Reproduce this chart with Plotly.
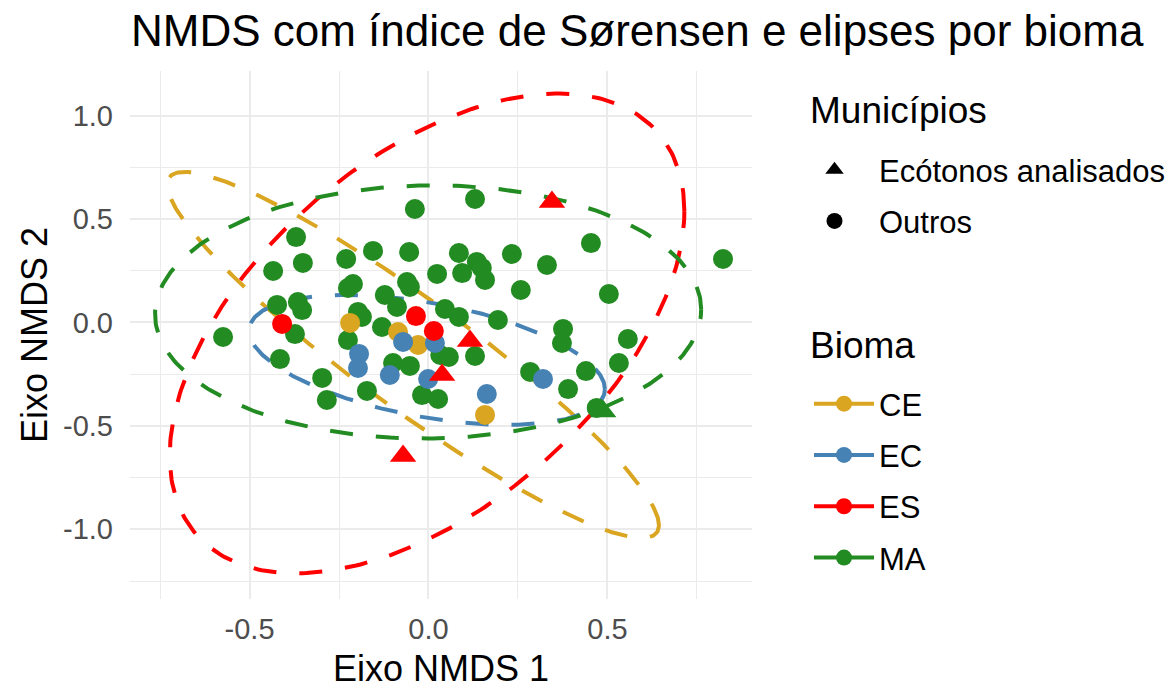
import numpy as np
import plotly.graph_objects as go

# ---------------- data ----------------
biomas = ["CE", "EC", "ES", "MA"]
cores = {"CE": "#DAA520", "EC": "#4682B4", "ES": "#FF0000", "MA": "#228B22"}

# MA
ma_x = [-0.038, 0.130, -0.370, -0.351, -0.434, -0.230, -0.155, -0.054, 0.024, 0.085,
        0.135, 0.149, 0.094, 0.158, 0.233, 0.331, 0.454, 0.823, 0.258, 0.504,
        -0.060, -0.052, -0.225, -0.211, -0.122, -0.088, -0.423, -0.365, -0.353, -0.373,
        -0.574, -0.415, -0.197, -0.186, -0.130, -0.225, -0.297, -0.284, -0.172, -0.099,
        -0.052, -0.018, 0.027, 0.046, 0.085, 0.194, 0.376, 0.373, 0.557, 0.532,
        0.440, 0.284, 0.130, 0.033, 0.057, 0.390, 0.470, 0.488]
ma_y = [0.549, 0.597, 0.413, 0.288, 0.249, 0.307, 0.346, 0.341, 0.235, 0.336,
        0.293, 0.264, 0.239, 0.206, 0.331, 0.278, 0.384, 0.307, 0.157, 0.138,
        0.196, 0.172, 0.167, 0.186, 0.133, 0.075, 0.085, 0.099, 0.060, -0.056,
        -0.070, -0.177, 0.051, 0.027, -0.022, -0.085, -0.268, -0.375, -0.331, -0.196,
        -0.210, -0.351, -0.370, 0.065, 0.027, 0.012, -0.031, -0.099, -0.080, -0.196,
        -0.235, -0.239, -0.162, -0.157, -0.167, -0.322, -0.413, -0.430]
ma_tipo = ["Outros"] * 57 + ["Ecótonos analisados"]

# CE
ce_x = [-0.219, -0.085, -0.029, 0.158]
ce_y = [-0.002, -0.046, -0.109, -0.447]
ce_tipo = ["Outros"] * 4

# EC
ec_x = [-0.194, -0.197, -0.108, -0.071, -0.001, 0.018, 0.163, 0.320]
ec_y = [-0.152, -0.220, -0.254, -0.094, -0.273, -0.099, -0.346, -0.273]
ec_tipo = ["Outros"] * 8

# ES
es_x = [-0.409, -0.035, 0.015, 0.345, 0.116, 0.038, -0.071]
es_y = [-0.007, 0.031, -0.041, 0.583, -0.089, -0.254, -0.646]
es_tipo = ["Outros"] * 3 + ["Ecótonos analisados"] * 4

pontos = {
    "MA": (ma_x, ma_y, ma_tipo),
    "CE": (ce_x, ce_y, ce_tipo),
    "EC": (ec_x, ec_y, ec_tipo),
    "ES": (es_x, es_y, es_tipo),
}

# ellipse parameters per bioma: centre, semi-extent in x and y, correlation
elip_cx = [-0.043, -0.004, -0.004, -0.001]
elip_cy = [-0.157, -0.181, -0.053, 0.051]
elip_rx = [0.687, 0.497, 0.719, 0.763]
elip_ry = [0.885, 0.314, 1.160, 0.612]
elip_rho = [-0.93, -0.45, 0.51, 0.02]

x_ticks = [-0.5, 0.0, 0.5]
x_ticklabels = ["-0.5", "0.0", "0.5"]
y_ticks = [-1.0, -0.5, 0.0, 0.5, 1.0]
y_ticklabels = ["-1.0", "-0.5", "0.0", "0.5", "1.0"]

simbolos = {"Ecótonos analisados": "triangle-up", "Outros": "circle"}
FONT = "Liberation Sans, Arial, sans-serif"
W, H = 1175, 689

fig = go.Figure()

# ellipses
t = np.linspace(0, 2 * np.pi, 361)
for i, b in enumerate(biomas):
    phi = np.arccos(elip_rho[i])
    ex = elip_cx[i] + elip_rx[i] * np.cos(t)
    ey = elip_cy[i] + elip_ry[i] * np.cos(t - phi)
    fig.add_trace(go.Scatter(x=ex, y=ey, mode="lines", showlegend=False, hoverinfo="skip",
                             line=dict(color=cores[b], width=4, dash="23px,23px")))

# points
for b in ["MA", "CE", "EC", "ES"]:
    xs, ys, tp = pontos[b]
    syms = [simbolos[v] for v in tp]
    sizes = [23 if v == "Ecótonos analisados" else 20 for v in tp]
    fig.add_trace(go.Scatter(x=xs, y=ys, mode="markers", showlegend=False,
                             marker=dict(color=cores[b], symbol=syms, size=sizes,
                                         opacity=1, line=dict(width=0))))

# legend: Municípios
for i, (nome, sym) in enumerate(simbolos.items()):
    fig.add_trace(go.Scatter(x=[None], y=[None], mode="markers", name=nome,
                             legend="legend", legendgroup="m%d" % i,
                             marker=dict(color="black", symbol=sym, size=20)))
# legend: Bioma
for i, b in enumerate(biomas):
    fig.add_trace(go.Scatter(x=[None], y=[None], mode="lines+markers", name=b,
                             legend="legend2", legendgroup="b%d" % i,
                             line=dict(color=cores[b], width=4),
                             marker=dict(color=cores[b], symbol="circle", size=20)))

grid = "#EBEBEB"
axis_common = dict(showline=False, zeroline=False, ticks="", showgrid=True,
                   gridcolor=grid, gridwidth=2, automargin=False,
                   tickfont=dict(family=FONT, size=29, color="#4D4D4D"),
                   title_font=dict(family=FONT, size=36, color="black"))

leg_common = dict(font=dict(family=FONT, size=31), xref="container", yref="container",
                  xanchor="left", yanchor="top", bgcolor="rgba(0,0,0,0)",
                  tracegroupgap=8, itemsizing="trace")

fig.update_layout(
    width=W, height=H,
    paper_bgcolor="white", plot_bgcolor="white",
    margin=dict(l=130, r=423, t=71, b=90),
    font=dict(family=FONT, color="black"),
    title=dict(text="NMDS com índice de Sørensen e elipses por bioma",
               font=dict(family=FONT, size=44, color="black"),
               x=131 / W, xref="container", xanchor="left",
               y=1 - 31 / H, yref="container", yanchor="middle"),
    xaxis=dict(range=[-0.834, 0.904], tickvals=x_ticks, ticktext=x_ticklabels,
               minor=dict(dtick=0.25, tick0=0, showgrid=True, gridcolor=grid, gridwidth=1.2),
               title=dict(text="Eixo NMDS 1", standoff=11),
               ticklabelstandoff=10, **axis_common),
    yaxis=dict(range=[-1.337, 1.216], tickvals=y_ticks, ticktext=y_ticklabels,
               minor=dict(dtick=0.25, tick0=0, showgrid=True, gridcolor=grid, gridwidth=1.2),
               title=dict(text="Eixo NMDS 2", standoff=4),
               ticklabelstandoff=16, **axis_common),
    legend=dict(x=790 / W, y=1 - 143 / H, itemwidth=79, **leg_common),
    legend2=dict(x=809 / W, y=1 - 377 / H, itemwidth=60, **leg_common),
    annotations=[
        dict(text="Municípios", xref="paper", yref="paper", x=(808 - 130) / 622,
             y=(599 - 110) / 528, xanchor="left", yanchor="middle", showarrow=False,
             font=dict(family=FONT, size=37, color="black")),
        dict(text="Bioma", xref="paper", yref="paper", x=(808 - 130) / 622,
             y=(599 - 345) / 528, xanchor="left", yanchor="middle", showarrow=False,
             font=dict(family=FONT, size=37, color="black")),
    ],
)

fig.write_html("out.html", config={"displayModeBar": False},
               post_script="document.body.style.margin='0';")
